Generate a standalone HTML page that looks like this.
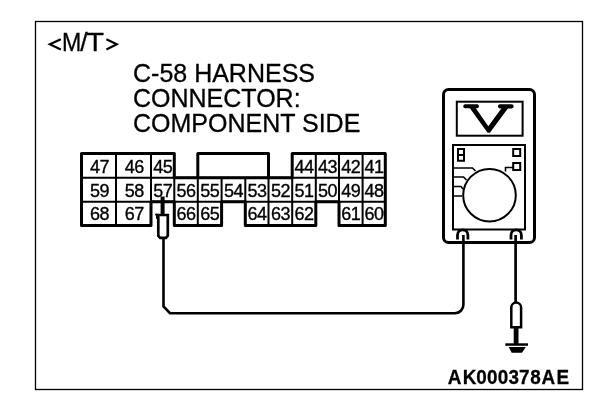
<!DOCTYPE html>
<html><head><meta charset="utf-8">
<style>
html,body{margin:0;padding:0;background:#fff;}
body{width:608px;height:404px;overflow:hidden;}
svg{display:block;will-change:transform;}
text{font-family:"Liberation Sans",sans-serif;fill:#000;}
.n{font-size:18px;text-anchor:middle;letter-spacing:-0.5px;stroke:#000;stroke-width:0.35px;}
.t{stroke:#000;stroke-width:0.3px;}
</style></head><body>
<svg width="608" height="404" viewBox="0 0 608 404">
<rect x="35.5" y="21.5" width="547" height="368" fill="none" stroke="#000" stroke-width="1.3"/>
<path d="M81.5,177.8 H385.3 M81.5,201.8 H385.3" stroke="#000" stroke-width="2.0" fill="none"/>
<path d="M116,153.5 V177.8 M151,153.5 V177.8 M315.8,153.5 V177.8 M339,153.5 V177.8 M362.6,153.5 V177.8 M116,177.8 V201.8 M151,177.8 V201.8 M174.3,177.8 V201.8 M197.8,177.8 V201.8 M221.6,177.8 V201.8 M245.3,177.8 V201.8 M268.5,177.8 V201.8 M292.2,177.8 V201.8 M315.8,177.8 V201.8 M339,177.8 V201.8 M362.6,177.8 V201.8 M116,201.8 V225.4 M197.8,201.8 V225.4 M268.5,201.8 V225.4 M292.2,201.8 V225.4 M362.6,201.8 V225.4" stroke="#000" stroke-width="2.0" fill="none"/>
<path d="M81.5,153.5 H174.3 V177.8 H197.8 V153.5 H268.5 V177.8 H292.2 V153.5 H385.3 V225.4 H339 V201.8 H315.8 V225.4 H245.3 V201.8 H221.6 V225.4 H174.3 V201.8 H151 V225.4 H81.5 Z" stroke="#000" stroke-width="3.0" fill="none" stroke-linejoin="round"/>
<path d="M197.8,177.8 H268.5" stroke="#000" stroke-width="3.0"/>
<text x="99.5" y="172.8" class="n">47</text>
<text x="134.2" y="172.8" class="n">46</text>
<text x="162.7" y="172.8" class="n">45</text>
<text x="304.0" y="172.8" class="n">44</text>
<text x="327.4" y="172.8" class="n">43</text>
<text x="350.8" y="172.8" class="n">42</text>
<text x="374.0" y="172.8" class="n">41</text>
<text x="99.5" y="196.5" class="n">59</text>
<text x="134.2" y="196.5" class="n">58</text>
<text x="162.7" y="196.5" class="n">57</text>
<text x="186.1" y="196.5" class="n">56</text>
<text x="209.7" y="196.5" class="n">55</text>
<text x="233.4" y="196.5" class="n">54</text>
<text x="256.9" y="196.5" class="n">53</text>
<text x="280.4" y="196.5" class="n">52</text>
<text x="304.0" y="196.5" class="n">51</text>
<text x="327.4" y="196.5" class="n">50</text>
<text x="350.8" y="196.5" class="n">49</text>
<text x="374.0" y="196.5" class="n">48</text>
<text x="99.5" y="219.6" class="n">68</text>
<text x="134.2" y="219.6" class="n">67</text>
<text x="186.1" y="219.6" class="n">66</text>
<text x="209.7" y="219.6" class="n">65</text>
<text x="256.9" y="219.6" class="n">64</text>
<text x="280.4" y="219.6" class="n">63</text>
<text x="304.0" y="219.6" class="n">62</text>
<text x="350.8" y="219.6" class="n">61</text>
<text x="374.0" y="219.6" class="n">60</text>
<text x="61.9" y="50.9" class="t" style="font-size:26.5px" textLength="19.3" lengthAdjust="spacingAndGlyphs">M</text>
<text x="80.2" y="50.9" class="t" style="font-size:26.5px">/</text>
<text x="86.6" y="50.9" class="t" style="font-size:26.5px" textLength="17.5" lengthAdjust="spacingAndGlyphs">T</text>
<path d="M60.8,39.2 L49.8,44.3 L60.8,49.5" fill="none" stroke="#000" stroke-width="2.1"/>
<path d="M106.4,39.2 L116.8,44.3 L106.4,49.5" fill="none" stroke="#000" stroke-width="2.1"/>
<text x="133" y="82" class="t" style="font-size:25px">C-58 HARNESS</text>
<text x="133" y="107" class="t" style="font-size:25px">CONNECTOR:</text>
<text x="133" y="131.9" class="t" style="font-size:25px">COMPONENT SIDE</text>
<text transform="translate(448,383.7) scale(0.9,1)" x="-0.30 16.37 31.39 43.28 55.17 67.30 78.76 91.33 103.92 120.60" y="0" class="t" style="font-size:21px;font-weight:bold">AK000378AE</text>
<!-- multimeter -->
<rect x="443.5" y="89.5" width="91" height="153" rx="5" fill="none" stroke="#000" stroke-width="3"/>
<rect x="456.8" y="101.7" width="65.8" height="34" fill="none" stroke="#000" stroke-width="2"/>
<rect x="463.3" y="104.2" width="15.6" height="4" rx="1.8" fill="#000"/>
<rect x="498" y="104.2" width="15.6" height="4.2" rx="1.8" fill="#000"/>
<path d="M468.3,106 L474.3,106 L488.3,126.2 L503.2,106 L509.7,106 L489.9,132.8 L487.6,132.8 Z" fill="#000"/>
<rect x="453" y="145" width="72" height="84.5" fill="none" stroke="#000" stroke-width="2"/>
<path d="M458,149 H464 V160.7 H458 Z M458,155 H464" fill="none" stroke="#000" stroke-width="2"/>
<rect x="513.2" y="149" width="7" height="7" fill="none" stroke="#000" stroke-width="2"/>
<rect x="513.2" y="163" width="7" height="7" fill="none" stroke="#000" stroke-width="2"/>
<path d="M513,167.5 H505.5 V171.5" fill="none" stroke="#000" stroke-width="1.6"/>
<path d="M453,168 H472.5 L475.5,171 M453,177 H463.5 L466.5,180 M453,186.5 H461 L463,189 M453,196 H462" fill="none" stroke="#000" stroke-width="1.6"/>
<circle cx="489.5" cy="195.2" r="26.3" fill="none" stroke="#000" stroke-width="2"/>
<path d="M457.5,239.5 V235 A5.2,5.2 0 0 1 467.9,235 V239.5" fill="none" stroke="#000" stroke-width="2.8"/>
<path d="M511,239.5 V235 A5.2,5.2 0 0 1 521.4,235 V239.5" fill="none" stroke="#000" stroke-width="2.8"/>
<!-- wires -->
<path d="M163.5,237 V306.5 L170,313.2 H455 A8.4,8.4 0 0 0 463.4,304.8 V235" fill="none" stroke="#000" stroke-width="2.6"/>
<path d="M515.6,235 V303" fill="none" stroke="#000" stroke-width="2.7"/>
<!-- probe at 57 -->
<path d="M162.6,196.5 V215" fill="none" stroke="#000" stroke-width="4"/>
<path d="M157,215 H167.8 V235.8 L166,237.9 H160.2 L158.3,235.8 V217 Z" fill="none" stroke="#000" stroke-width="2.7"/>
<rect x="156" y="213.8" width="2.5" height="5" fill="#000"/>
<!-- ground probe -->
<path d="M511.3,327.3 V307.5 A4.9,4.9 0 0 1 521.1,307.5 V327.3 Z" fill="none" stroke="#000" stroke-width="2.5"/>
<rect x="513.7" y="328" width="4.8" height="16" fill="#000"/>
<path d="M505.3,343.3 H528 V345.8 H505.3 Z" fill="#000"/>
<path d="M508.7,347 H525.8 L522,352.8 H511.7 Z" fill="#000"/>
</svg>
</body></html>
